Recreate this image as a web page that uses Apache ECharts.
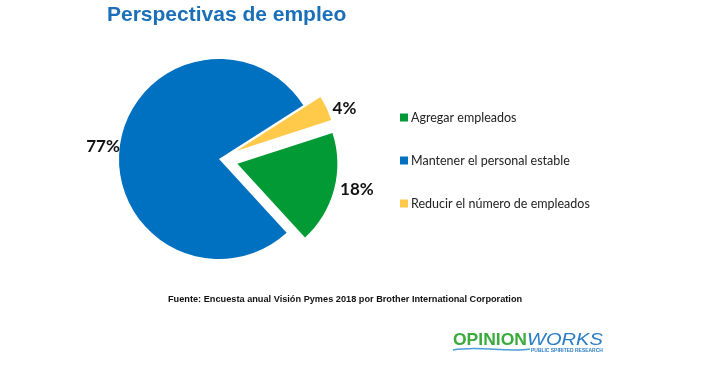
<!DOCTYPE html>
<html>
<head>
<meta charset="utf-8">
<script src="https://cdn.jsdelivr.net/npm/echarts@6/dist/echarts.min.js"></script>
<style>
  html, body { margin: 0; padding: 0; background: #fff; }
  #chart { width: 711px; height: 375px; }
</style>
</head>
<body>
<div id="chart"></div>
<script>
// data
var categories = ["Agregar empleados", "Mantener el personal estable", "Reducir el número de empleados"];
var values = [18, 77, 4];
var exploded = [true, false, true];
var colors = ["#029a35", "#0070c0", "#ffc94a"];

var pieData = categories.map(function (name, i) {
    var item = {
        name: name,
        value: values[i],
        selected: exploded[i],
        itemStyle: { color: colors[i] }
    };
    if (!exploded[i]) {
        // big slice label sits right against the edge
        item.label = { distanceToLabelLine: 0 };
        item.labelLine = { length: 0, length2: 0 };
    }
    return item;
});

var chart = echarts.init(document.getElementById("chart"));
chart.setOption({
    animation: false,
    title: {
        text: "Perspectivas de empleo",
        left: 102,
        top: 0,
        textStyle: {
            fontFamily: "Liberation Sans",
            fontWeight: "bold",
            fontSize: 21,
            color: "#1a6fb8"
        }
    },
    legend: {
        orient: "vertical",
        left: 395,
        top: 106,
        itemWidth: 8,
        itemHeight: 8,
        itemGap: 30,
        icon: "rect",
        selectedMode: false,
        textStyle: {
            fontFamily: "Lato",
            fontSize: 12.5,
            color: "#222",
            padding: [0, 0, 0, -2]
        }
    },
    graphic: [
        {
            type: "text",
            left: 168,
            top: 295,
            style: {
                text: "Fuente: Encuesta anual Visión Pymes 2018 por Brother International Corporation",
                font: "bold 9.2px 'Liberation Sans'",
                fill: "#111"
            }
        },
        {
            type: "text",
            x: 453,
            y: 332,
            scaleX: 1.03,
            style: { text: "OPINION", font: "bold 17px 'Liberation Sans'", fill: "#3aab3c" }
        },
        {
            type: "text",
            x: 527,
            y: 332,
            scaleX: 1.18,
            style: { text: "WORKS", font: "italic 17px 'Liberation Sans'", fill: "#2a7cc4" }
        },
        {
            type: "text",
            x: 531,
            y: 348,
            scaleX: 1.1,
            style: { text: "PUBLIC SPIRITED RESEARCH", font: "bold 4.5px 'Liberation Sans'", fill: "#2a7cc4" }
        },
        {
            type: "bezierCurve",
            shape: { x1: 453, y1: 350, x2: 530, y2: 349, cpx1: 480, cpy1: 345, cpx2: 505, cpy2: 353 },
            style: { stroke: "#4a9fd8", lineWidth: 1.5, fill: null }
        }
    ],
    series: [{
        type: "pie",
        center: [219, 159],
        radius: 100,
        startAngle: 18,
        clockwise: true,
        selectedMode: "multiple",
        selectedOffset: 19,
        avoidLabelOverlap: false,
        emphasis: { disabled: true },
        label: {
            show: true,
            position: "outside",
            formatter: "{c}%",
            fontFamily: "Lato",
            fontWeight: "bold",
            fontSize: 17,
            color: "#111",
            distanceToLabelLine: 5
        },
        labelLine: { show: false, length: 0, length2: 1 },
        data: pieData
    }]
});
</script>
</body>
</html>
